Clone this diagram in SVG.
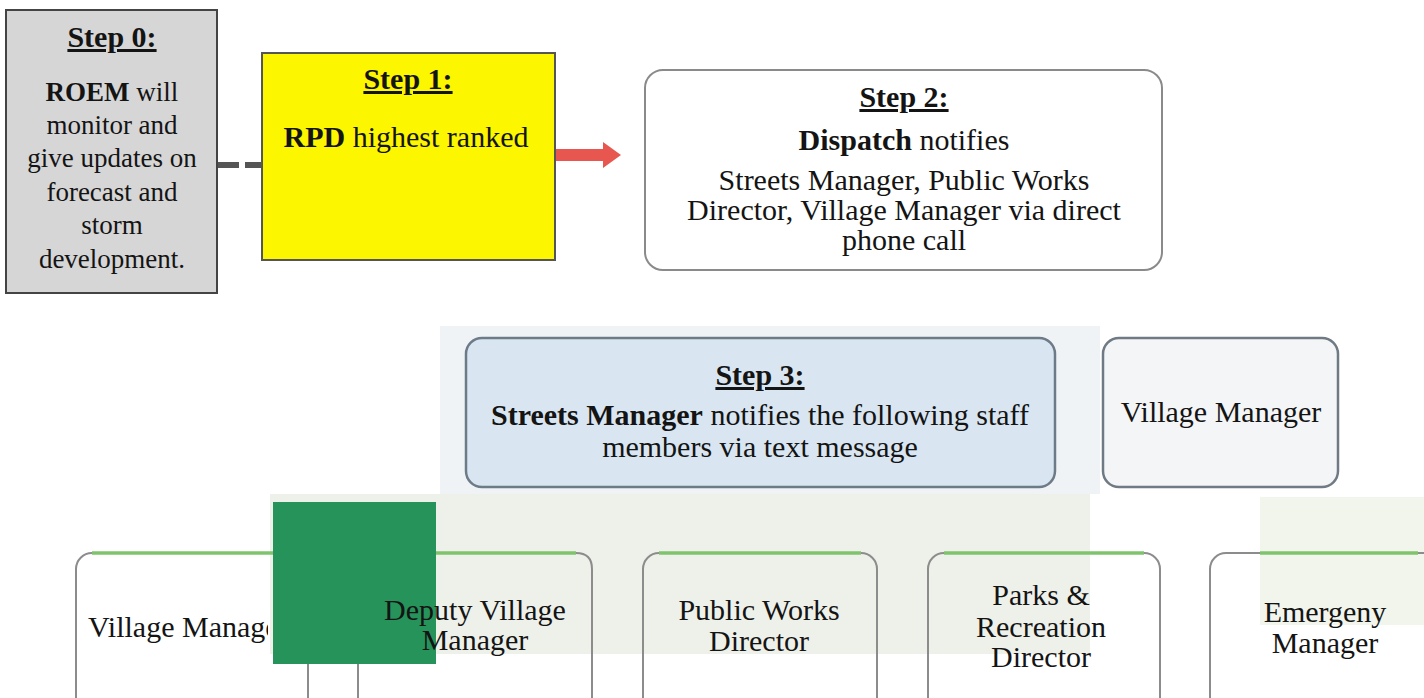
<svg xmlns="http://www.w3.org/2000/svg" width="1424" height="698" viewBox="0 0 1424 698">
<style>
text{font-family:"Liberation Serif","Times New Roman",serif;fill:#141414;text-anchor:middle}
.t{font-size:30px;font-weight:bold;text-decoration:underline}
.b{font-size:27px}
.m{font-size:30px}
.bo{font-weight:bold}
.box{stroke:#8c8c8c;stroke-width:2;fill:none}
.green{stroke:#7fc46d;stroke-width:3.5;fill:none}
</style>
<defs>
<clipPath id="vmclip"><rect x="0" y="580" width="268" height="80"/></clipPath>
</defs>
<rect width="1424" height="698" fill="#ffffff"/>
<g id="background">
<rect x="440" y="326" width="660" height="168" fill="#f0f3f6"/>
<rect x="270" y="494" width="820" height="160" fill="#eef0ea"/>
<rect x="1260" y="497" width="164" height="128" fill="#f2f5ec"/>
</g>
<g id="connectors">
<line x1="217" y1="165" x2="262" y2="165" stroke="#555" stroke-width="6" stroke-dasharray="22,6"/>
<polygon points="556,149 603,149 603,142 621,155 603,168 603,161 556,161" fill="#e8574f"/>
</g>
<g id="step0">
<rect x="6" y="10" width="211" height="283" fill="#d6d6d6" stroke="#444" stroke-width="2"/>
<text class="t" x="112" y="47">Step 0:</text>
<text class="b" x="112" y="101"><tspan class="bo">ROEM</tspan> will</text>
<text class="b" x="112" y="134">monitor and</text>
<text class="b" x="112" y="167">give updates on</text>
<text class="b" x="112" y="201">forecast and</text>
<text class="b" x="112" y="234">storm</text>
<text class="b" x="112" y="268">development.</text>
</g>
<g id="step1">
<rect x="262" y="53" width="293" height="207" fill="#fcf600" stroke="#555" stroke-width="2"/>
<text class="t" x="408" y="89">Step 1:</text>
<text class="m" x="406" y="147"><tspan class="bo">RPD</tspan> highest ranked</text>
</g>
<g id="step2">
<rect x="645" y="70" width="517" height="200" rx="18" fill="#ffffff" stroke="#8a8a8a" stroke-width="2"/>
<text class="t" x="904" y="107">Step 2:</text>
<text class="m" x="904" y="150"><tspan class="bo">Dispatch</tspan> notifies</text>
<text class="m" x="904" y="190">Streets Manager, Public Works</text>
<text class="m" x="904" y="220">Director, Village Manager via direct</text>
<text class="m" x="904" y="250">phone call</text>
</g>
<g id="step3">
<rect x="466" y="338" width="589" height="149" rx="16" fill="#d9e6f2" stroke="#6d7b88" stroke-width="2.5"/>
<text class="t" x="760" y="385">Step 3:</text>
<text class="m" x="760" y="425"><tspan class="bo">Streets Manager</tspan> notifies the following staff</text>
<text class="m" x="760" y="457">members via text message</text>
</g>
<g id="village-manager-top">
<rect x="1103" y="338" width="235" height="149" rx="16" fill="#f3f5f7" stroke="#707a84" stroke-width="2.5"/>
<text class="m" x="1221" y="422">Village Manager</text>
</g>
<g id="village-manager">
<rect x="76" y="553" width="232" height="170" rx="16" class="box"/>
<path class="green" d="M92,553 H292"/>
<text class="m" x="88" y="637" style="text-anchor:start" clip-path="url(#vmclip)">Village Manager</text>
</g>
<g id="deputy-village-manager">
<path class="box" d="M436,553 H576 Q592,553 592,569 V698 M358,664 V698"/>
<path class="green" d="M436,553 H576"/>
</g>
<g id="green-square">
<rect x="273" y="502" width="163" height="162" fill="#25935a"/>
</g>
<g id="deputy-village-manager-label">
<text class="m" x="475" y="620">Deputy Village</text>
<text class="m" x="475" y="650">Manager</text>
</g>
<g id="public-works-director">
<rect x="643" y="553" width="234" height="170" rx="16" class="box"/>
<path class="green" d="M659,553 H861"/>
<text class="m" x="759" y="620">Public Works</text>
<text class="m" x="759" y="651">Director</text>
</g>
<g id="parks-recreation-director">
<rect x="928" y="553" width="232" height="170" rx="16" class="box"/>
<path class="green" d="M944,553 H1144"/>
<text class="m" x="1041" y="605">Parks &amp;</text>
<text class="m" x="1041" y="637">Recreation</text>
<text class="m" x="1041" y="667">Director</text>
</g>
<g id="emergency-manager">
<rect x="1210" y="553" width="240" height="170" rx="16" class="box"/>
<path class="green" d="M1260,553 H1418"/>
<text class="m" x="1325" y="622">Emergeny</text>
<text class="m" x="1325" y="653">Manager</text>
</g>
</svg>
